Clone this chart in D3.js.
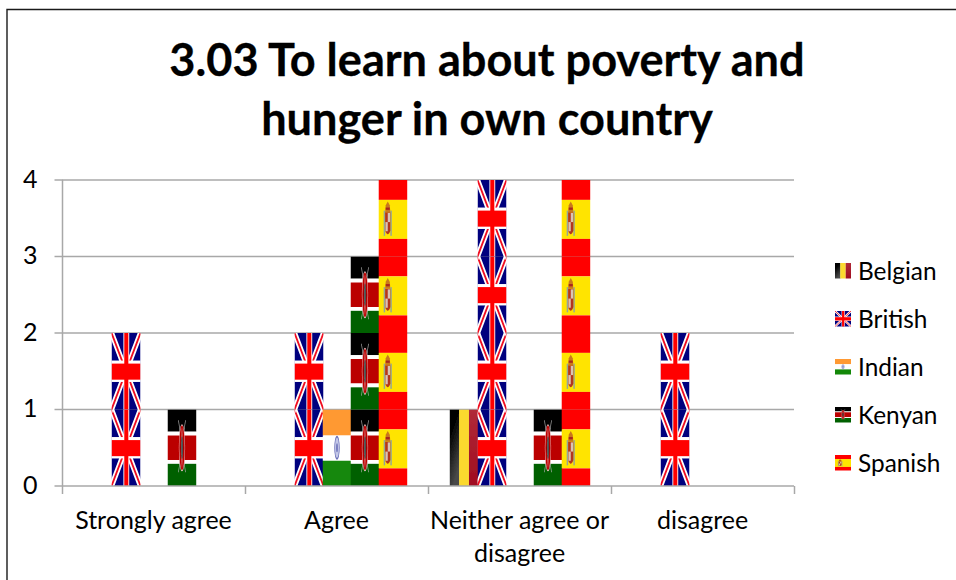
<!DOCTYPE html>
<html><head><meta charset="utf-8">
<script src="https://cdn.jsdelivr.net/npm/d3@7"></script>
<style>html,body{margin:0;padding:0;background:#fff}svg{display:block}text{font-family:Lato,"Open Sans",sans-serif;fill:#000}</style>
</head><body><svg id="c" width="956" height="580"></svg>
<script>
const titleLines = ["3.03 To learn about poverty and", "hunger in own country"];
const categories = ["Strongly agree", "Agree", "Neither agree or disagree", "disagree"];
const categoryLines = [["Strongly agree"], ["Agree"], ["Neither agree or", "disagree"], ["disagree"]];
const seriesNames = ["Belgian", "British", "Indian", "Kenyan", "Spanish"];
const belgian = [0, 0, 1, 0];
const british = [2, 2, 4, 2];
const indian  = [0, 1, 0, 0];
const kenyan  = [1, 3, 1, 0];
const spanish = [0, 4, 4, 0];
const yTicks = [0, 1, 2, 3, 4];
const seriesValues = [belgian, british, indian, kenyan, spanish];

const svg = d3.select("#c");
const defs = svg.append("defs");
const rect = (g, x, y, w, h, f) => g.append("rect").attr("x", x).attr("y", y).attr("width", w).attr("height", h).attr("fill", f);

defs.append("filter").attr("id", "soft").attr("x", "-5%").attr("y", "-5%").attr("width", "110%").attr("height", "110%")
  .append("feGaussianBlur").attr("stdDeviation", 0.5);
const gb = defs.append("linearGradient").attr("id", "beBlack").attr("x1", 0).attr("y1", 0).attr("x2", 0.4).attr("y2", 1);
gb.append("stop").attr("offset", "0.3").attr("stop-color", "#000");
gb.append("stop").attr("offset", "1").attr("stop-color", "#4a4a4a");
const gr = defs.append("linearGradient").attr("id", "beRed").attr("x1", 0).attr("y1", 0).attr("x2", 0).attr("y2", 1);
gr.append("stop").attr("offset", "0").attr("stop-color", "#b02a38");
gr.append("stop").attr("offset", "1").attr("stop-color", "#a00c20");

// every flag is drawn into a 100 x 100 tile
const flags = {
  Belgian(g) {
    rect(g, 0, 0, 34, 100, "url(#beBlack)");
    rect(g, 33, 0, 34, 100, "#fbd92f");
    rect(g, 67, 0, 33, 100, "url(#beRed)");
  },
  British(g) {
    rect(g, 0, 0, 100, 100, "#00007e");
    const line = (pts, c, w) => g.append("path").attr("d", pts).attr("stroke", c).attr("stroke-width", w).attr("fill", "none");
    line("M0,0L100,100M100,0L0,100", "#fff", 14);
    line("M0,0L100,100M100,0L0,100", "#f01020", 5);
    rect(g, 0, 36, 100, 28, "#fff");
    rect(g, 41, 0, 20, 100, "#fff");
    rect(g, 0, 40, 100, 21, "#ff0000");
    rect(g, 44, 0, 14, 100, "#ff0000");
  },
  Indian(g) {
    rect(g, 0, 0, 100, 34, "#ff9933");
    rect(g, 0, 34, 100, 33, "#fff");
    rect(g, 0, 67, 100, 33, "#138808");
    g.append("ellipse").attr("cx", 50).attr("cy", 50).attr("rx", 8).attr("ry", 14.5).attr("fill", "#c4c8e8").attr("stroke", "#6a6fb8").attr("stroke-width", 2.5);
    g.append("ellipse").attr("cx", 50).attr("cy", 50).attr("rx", 2.5).attr("ry", 6).attr("fill", "#5a60b0");
  },
  Kenyan(g) {
    rect(g, 0, 0, 100, 29, "#000");
    rect(g, 0, 29, 100, 5, "#fff");
    rect(g, 0, 34, 100, 32, "#bb0000");
    rect(g, 0, 66, 100, 5, "#fff");
    rect(g, 0, 71, 100, 29, "#006000");
    g.append("path").attr("d", "M38,14L62,82M62,14L38,82").attr("stroke", "#b8b8b8").attr("stroke-width", 2);
    g.append("ellipse").attr("cx", 50).attr("cy", 50).attr("rx", 10).attr("ry", 30).attr("fill", "#bb0000").attr("stroke", "#eac8c8").attr("stroke-width", 1.5);
    g.append("ellipse").attr("cx", 50).attr("cy", 50).attr("rx", 4).attr("ry", 15).attr("fill", "#000");
    g.append("ellipse").attr("cx", 50).attr("cy", 50).attr("rx", 1.2).attr("ry", 26).attr("fill", "#f4f4f4");
  },
  Spanish(g) {
    rect(g, 0, 0, 100, 26, "#ff0000");
    rect(g, 0, 26, 100, 51, "#ffe400");
    rect(g, 0, 77, 100, 23, "#ff0000");
    // pillars of the coat of arms
    rect(g, 18, 40, 5, 33, "#93a59a");
    rect(g, 41, 40, 5, 33, "#93a59a");
    // shield, quartered
    g.append("path").attr("d", "M23,42H41V66Q32,76 23,66Z").attr("fill", "#b4341c");
    rect(g, 32, 43, 8, 12, "#d9c4b4");
    rect(g, 24, 55, 8, 12, "#d9c4b4");
    // crown
    g.append("path").attr("d", "M23,42L25,33L32,28L39,33L41,42Z").attr("fill", "#c9781e");
    rect(g, 25, 36, 14, 3, "#a8281c");
  }
};

const m = { left: 62, right: 794, top: 180, bottom: 486 };
const x0 = d3.scaleBand().domain(categories).range([m.left, m.right]);
const x1 = d3.scaleBand().domain(seriesNames).range([0, x0.bandwidth()]).paddingInner(0).paddingOuter(0.77);
const y = d3.scaleLinear().domain([0, 4]).range([m.bottom, m.top]);
const axisColor = "#a8a8a8";

// outer frame
svg.append("path").attr("d", "M7,580V9.5H956").attr("fill", "none").attr("stroke", "#1a1a1a").attr("stroke-width", 1.4);

// title
svg.append("g").selectAll("text").data(titleLines).join("text")
  .attr("x", 487).attr("y", (d, i) => 76 + i * 59).attr("text-anchor", "middle")
  .attr("font-size", 45.1).attr("font-weight", 700).attr("stroke", "#000").attr("stroke-width", 0.3).text(d => d);

// grid
svg.append("g").selectAll("line").data(yTicks.filter(d => d > 0)).join("line")
  .attr("x1", m.left).attr("x2", m.right).attr("y1", d => y(d)).attr("y2", d => y(d))
  .attr("stroke", axisColor).attr("stroke-width", 1.5);

// bars
const unit = y(0) - y(1);
const barsG = svg.append("g");
seriesNames.forEach((name, si) => {
  categories.forEach((cat, ci) => {
    const v = seriesValues[si][ci];
    if (!v) return;
    const bx = x0(cat) + x1(name), bw = x1.bandwidth() + 1, top = y(v);
    const id = "clip-" + si + "-" + ci;
    defs.append("clipPath").attr("id", id).append("rect").attr("x", bx).attr("y", top).attr("width", bw).attr("height", y(0) - top);
    const g = barsG.append("g").attr("clip-path", `url(#${id})`).append("g").attr("filter", "url(#soft)");
    d3.range(v).forEach(k => {
      const t = g.append("g").attr("transform", `translate(${bx},${y(k + 1)}) scale(${bw / 100},${unit / 100})`);
      flags[name](t);
    });
  });
});

// axes
const yAxis = svg.append("g").attr("transform", `translate(${m.left + 0.5},0)`)
  .call(d3.axisLeft(y).tickValues(yTicks).tickSize(8).tickPadding(17).tickFormat(d3.format("d")));
yAxis.select(".domain").attr("stroke", axisColor).attr("stroke-width", 1.5).attr("d", `M0,${m.top}V${m.bottom}`);
yAxis.selectAll(".tick line").attr("stroke", axisColor).attr("stroke-width", 1.5);
yAxis.selectAll(".tick").attr("transform", d => `translate(0,${y(d)})`);
yAxis.selectAll(".tick text").attr("font-size", 25).attr("y", -1).attr("dy", "0.35em");

const edges = categories.map(c => x0(c)).concat(m.right);
const xAxisG = svg.append("g");
xAxisG.append("line").attr("x1", m.left).attr("x2", m.right).attr("y1", y(0)).attr("y2", y(0)).attr("stroke", axisColor).attr("stroke-width", 1.5);
xAxisG.selectAll(".t").data(edges).join("line").attr("class", "t")
  .attr("x1", d => Math.round(d) + 0.5).attr("x2", d => Math.round(d) + 0.5)
  .attr("y1", y(0)).attr("y2", y(0) + 8).attr("stroke", axisColor).attr("stroke-width", 1.5);
categories.forEach((c, i) => {
  categoryLines[i].forEach((l, j) => {
    xAxisG.append("text").attr("x", x0(c) + x0.bandwidth() / 2).attr("y", 529 + j * 33)
      .attr("text-anchor", "middle").attr("font-size", 25).text(l);
  });
});

// legend
const legY = d3.scalePoint().domain(seriesNames).range([271, 463]);
const leg = svg.append("g");
seriesNames.forEach(name => {
  const cy = legY(name);
  const t = leg.append("g").attr("transform", `translate(835,${cy - 8}) scale(0.16,0.155)`);
  flags[name](t);
  leg.append("text").attr("x", 858).attr("y", cy + 9).attr("font-size", 24.4).text(name);
});
</script></body></html>
